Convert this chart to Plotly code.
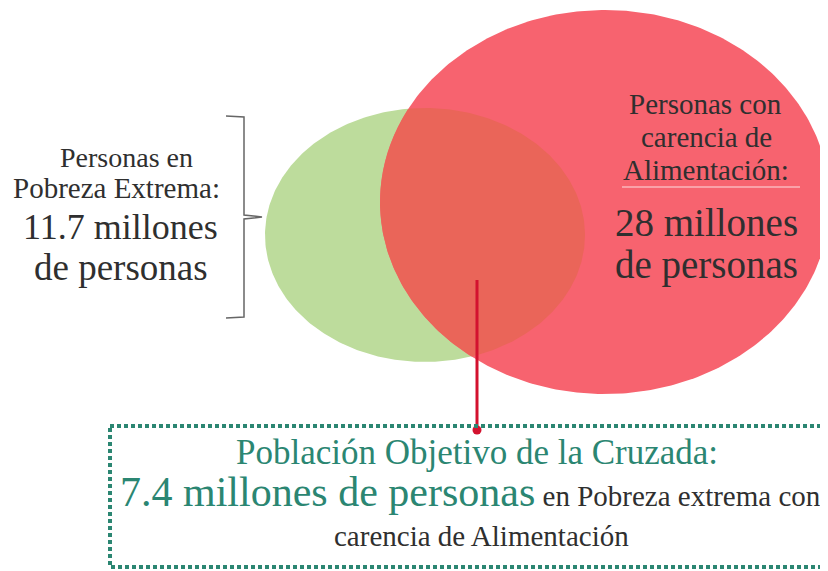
import numpy as np
import plotly.graph_objects as go

# ---- data ----
set_names = ["Personas en Pobreza Extrema", "Personas con carencia de Alimentación"]
set_values = [11.7, 28]          # millones de personas
overlap_value = 7.4              # millones de personas
overlap_title = "Población Objetivo de la Cruzada"

OFF = 8  # page body margin
W, H = 828 - OFF, 571 - OFF
TEAL = "#2b8672"
INK = "#2f2f2f"
SERIF = "Liberation Serif"

# ellipse geometry (pixel space)
green = dict(cx=425, cy=235, rx=160, ry=127)
red = dict(cx=605, cy=202, rx=225, ry=192)


def ellipse_pts(e, n=400):
    t = np.linspace(0, 2 * np.pi, n, endpoint=False)
    return e["cx"] + e["rx"] * np.cos(t), e["cy"] + e["ry"] * np.sin(t)


def inside(e, x, y):
    return ((x - e["cx"]) / e["rx"]) ** 2 + ((y - e["cy"]) / e["ry"]) ** 2 <= 1


fig = go.Figure()

gx, gy = ellipse_pts(green)
rx_, ry_ = ellipse_pts(red)
fig.add_trace(go.Scatter(x=np.append(gx, gx[0]), y=np.append(gy, gy[0]), fill="toself",
                         fillcolor="#bddc9c", line=dict(width=0), mode="lines",
                         hoverinfo="skip", showlegend=False))
fig.add_trace(go.Scatter(x=np.append(rx_, rx_[0]), y=np.append(ry_, ry_[0]), fill="toself",
                         fillcolor="#f7636f", line=dict(width=0), mode="lines",
                         hoverinfo="skip", showlegend=False))
# intersection
mg = inside(red, gx, gy)
mr = inside(green, rx_, ry_)
px = np.concatenate([gx[mg], rx_[mr]])
py = np.concatenate([gy[mg], ry_[mr]])
ccx, ccy = px.mean(), py.mean()
order = np.argsort(np.arctan2(py - ccy, px - ccx))
px, py = px[order], py[order]
fig.add_trace(go.Scatter(x=np.append(px, px[0]), y=np.append(py, py[0]), fill="toself",
                         fillcolor="#ea6559", line=dict(width=0), mode="lines",
                         hoverinfo="skip", showlegend=False))

# connector line with dot
fig.add_trace(go.Scatter(x=[477, 477], y=[280, 430], mode="lines",
                         line=dict(color="#d3122f", width=3), hoverinfo="skip", showlegend=False))
fig.add_trace(go.Scatter(x=[477], y=[430], mode="markers",
                         marker=dict(color="#d3122f", size=9), hoverinfo="skip", showlegend=False))

shapes = [
    # bracket
    dict(type="path", path="M 226 116 L 244 117 L 244 215 L 262 217 L 244 219 L 244 317 L 226 318",
         line=dict(color="#666666", width=1.5), xref="x", yref="y"),
    # white underline
    dict(type="line", x0=622, x1=800, y0=187, y1=187, line=dict(color="rgba(255,255,255,0.8)", width=1),
         xref="x", yref="y"),
    # dotted box
    dict(type="rect", x0=110, x1=840, y0=426, y1=567, line=dict(color=TEAL, width=4, dash="4px,3px"),
         xref="x", yref="y"),
]


def fmt(v):
    return f"{v:g}"


left_name = set_names[0].replace("Personas en ", "")
annotations = [
    dict(x=126, y=157, text="Personas en", font=dict(size=28, color=INK, family=SERIF)),
    dict(x=116, y=188, text=left_name + ":", font=dict(size=29, color=INK, family=SERIF)),
    dict(x=120, y=227, text=f"{fmt(set_values[0])} millones", font=dict(size=36, color=INK, family=SERIF)),
    dict(x=121, y=267, text="de personas", font=dict(size=37, color=INK, family=SERIF)),
    dict(x=705, y=104, text="Personas con", font=dict(size=29, color=INK, family=SERIF)),
    dict(x=706, y=137, text="carencia de", font=dict(size=29, color=INK, family=SERIF)),
    dict(x=706, y=170, text="Alimentación:", font=dict(size=29, color=INK, family=SERIF)),
    dict(x=706, y=222, text=f"{fmt(set_values[1])} millones", font=dict(size=39, color=INK, family=SERIF)),
    dict(x=706, y=265, text="de personas", font=dict(size=39, color=INK, family=SERIF)),
    dict(x=477, y=452, text=overlap_title + ":", font=dict(size=35, color=TEAL, family=SERIF)),
    dict(x=470, y=492,
         text=f"<span style='font-size:42px;color:{TEAL}'>{fmt(overlap_value)} millones de personas</span>"
              f" en Pobreza extrema con",
         font=dict(size=29, color=INK, family=SERIF)),
    dict(x=481, y=536, text="carencia de Alimentación", font=dict(size=29, color=INK, family=SERIF)),
]
for a in annotations:
    a.update(xref="x", yref="y", showarrow=False, xanchor="center", yanchor="middle")

fig.update_layout(
    width=W, height=H, margin=dict(l=0, r=0, t=0, b=0),
    paper_bgcolor="white", plot_bgcolor="white",
    xaxis=dict(range=[OFF, 828], visible=False, fixedrange=True),
    yaxis=dict(range=[571, OFF], visible=False, fixedrange=True),
    shapes=shapes, annotations=annotations, showlegend=False,
)
fig.write_html("out.html")
